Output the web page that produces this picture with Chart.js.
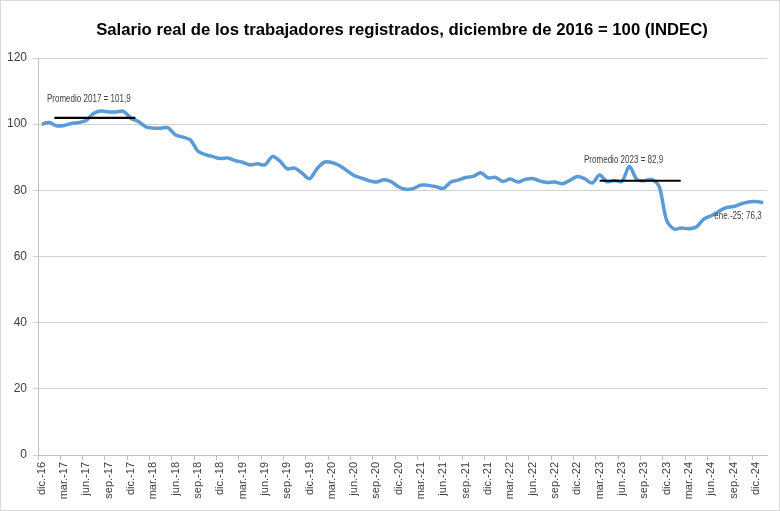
<!DOCTYPE html>
<html>
<head>
<meta charset="utf-8">
<script src="https://cdn.jsdelivr.net/npm/chart.js@4/dist/chart.umd.min.js"></script>
<style>
    html, body { margin: 0; padding: 0; background: #fff; }
    #wrap { position: relative; width: 780px; height: 511px; }
    #frame { position: absolute; left: 0; top: 0; width: 778px; height: 509px; border: 1px solid #d9d9d9; pointer-events: none; }
    canvas { display: block; }
</style>
</head>
<body>
<div id="wrap">
    <canvas id="salarioChart" width="780" height="511"></canvas>
    <div id="frame"></div>
</div>
<script>
// Salario real registrado - dic 2016 = 100

const monthNames = ['ene.', 'feb.', 'mar.', 'abr.', 'may.', 'jun.', 'jul.', 'ago.', 'sep.', 'oct.', 'nov.', 'dic.'];

// dic.-16 ... ene.-25 (categorias mensuales)
const labels = ['dic.-16'];
for (let y = 17; y <= 24; y++) monthNames.forEach(m => labels.push(`${m}-${y}`));
labels.push('ene.-25');

// valores, por año
const val2016 = [100.0];
const val2017 = [100.5, 99.5, 99.6, 100.2, 100.5, 101.2, 103.3, 104.0, 103.7, 103.7, 103.9, 101.8];
const val2018 = [100.8, 99.2, 98.8, 98.8, 98.9, 96.7, 96.1, 95.2, 91.8, 90.8, 90.2, 89.6];
const val2019 = [89.8, 89.0, 88.5, 87.7, 88.0, 87.7, 90.2, 88.9, 86.5, 86.7, 85.2, 83.5];
const val2020 = [86.5, 88.5, 88.4, 87.5, 86.0, 84.5, 83.7, 82.9, 82.5, 83.2, 82.6, 81.0];
const val2021 = [80.3, 80.6, 81.6, 81.5, 81.1, 80.6, 82.5, 83.1, 83.9, 84.2, 85.3, 83.8];
const val2022 = [83.9, 82.7, 83.4, 82.5, 83.3, 83.6, 82.8, 82.4, 82.5, 82.0, 83.0, 84.2];
const val2023 = [83.5, 82.2, 84.6, 82.6, 83.0, 82.7, 87.2, 83.3, 82.9, 83.3, 81.2, 71.0];
const val2024 = [68.3, 68.6, 68.4, 68.9, 71.3, 72.3, 73.6, 74.8, 75.1, 75.9, 76.5, 76.6];
const val2025 = [76.3];

const salarioReal = [...val2016, ...val2017, ...val2018, ...val2019, ...val2020,
                     ...val2021, ...val2022, ...val2023, ...val2024, ...val2025];

const yTicks = [0, 20, 40, 60, 80, 100, 120];

// promedios anuales: texto, valor, tramo (indice de categoria)
const avgLabels = ['Promedio 2017 = 101,9', 'Promedio 2023 = 82,9'];
const avgValues = [101.9, 82.9];
const avgSpans = [[1.7, 12.6], [75.0, 85.9]];
const avgTextAt = [[0.7, 107.6], [72.9, 89.2]];

const lastLabel = 'ene.-25; 76,3';
const chartTitle = 'Salario real de los trabajadores registrados, diciembre de 2016 = 100 (INDEC)';

const FONT = "'Liberation Sans', Arial, sans-serif";

// texto angosto (parecido a Calibri)
function narrowText(ctx, text, px, py) {
    ctx.save();
    ctx.translate(px, py);
    ctx.scale(0.73, 1);
    ctx.fillText(text, 0, 0);
    ctx.restore();
}

// titulo centrado sobre el lienzo (como en Excel)
const titlePlugin = {
    id: 'excelTitle',
    afterDraw(chart) {
        const { ctx } = chart;
        ctx.save();
        ctx.fillStyle = '#000';
        ctx.font = `bold 16.7px ${FONT}`;
        ctx.textAlign = 'center';
        ctx.textBaseline = 'middle';
        ctx.fillText(chartTitle, 402, 30);
        ctx.restore();
    }
};

// dibuja las lineas de promedio y las etiquetas de texto
const annotationsPlugin = {
    id: 'annotations',
    afterDatasetsDraw(chart) {
        const { ctx, scales: { x, y } } = chart;
        ctx.save();
        ctx.fillStyle = '#404040';
        ctx.font = `11px ${FONT}`;
        ctx.textAlign = 'left';
        ctx.textBaseline = 'middle';

        avgValues.forEach((v, i) => {
            const py = y.getPixelForValue(v);
            ctx.strokeStyle = '#000';
            ctx.lineWidth = 2.2;
            ctx.beginPath();
            ctx.moveTo(x.getPixelForValue(avgSpans[i][0]), py);
            ctx.lineTo(x.getPixelForValue(avgSpans[i][1]), py);
            ctx.stroke();

            narrowText(ctx, avgLabels[i], x.getPixelForValue(avgTextAt[i][0]), y.getPixelForValue(avgTextAt[i][1]));
        });

        // etiqueta del ultimo dato
        const last = salarioReal.length - 1;
        const lx = x.getPixelForValue(last);
        const ly = y.getPixelForValue(salarioReal[last]);
        narrowText(ctx, lastLabel, lx - 49, ly + 13.5);
        ctx.restore();
    }
};

new Chart(document.getElementById('salarioChart'), {
    type: 'line',
    data: {
        labels: labels,
        datasets: [{
            data: salarioReal,
            borderColor: '#5b9bd5',
            borderWidth: 3.5,
            pointRadius: 0,
            tension: 0.3,
            fill: false
        }]
    },
    options: {
        responsive: false,
        animation: false,
        layout: { padding: { left: 0, right: 13, top: 58, bottom: 0 } },
        plugins: {
            legend: { display: false },
            tooltip: { enabled: false },
            title: { display: false }
        },
        scales: {
            x: {
                offset: true,
                grid: {
                    offset: true,
                    drawOnChartArea: false,
                    tickLength: 5,
                    color: c => (c.index % 3 === 0 ? '#bfbfbf' : 'transparent')
                },
                border: { color: '#bfbfbf' },
                ticks: {
                    autoSkip: false,
                    minRotation: 90,
                    maxRotation: 90,
                    padding: 2,
                    color: '#404040',
                    font: { family: FONT, size: 11 },
                    callback: (v, i) => (i % 3 === 0 ? labels[i] : '')
                },
                afterFit: s => { s.height = 56; }
            },
            y: {
                min: 0,
                max: 120,
                afterBuildTicks: s => { s.ticks = yTicks.map(v => ({ value: v })); },
                grid: { color: '#d0d0d0', tickLength: 5 },
                border: { color: '#bfbfbf' },
                ticks: {
                    padding: 6,
                    color: '#404040',
                    font: { family: FONT, size: 12 }
                },
                afterFit: s => { s.width = 38; }
            }
        }
    },
    plugins: [annotationsPlugin, titlePlugin]
});
</script>
</body>
</html>
